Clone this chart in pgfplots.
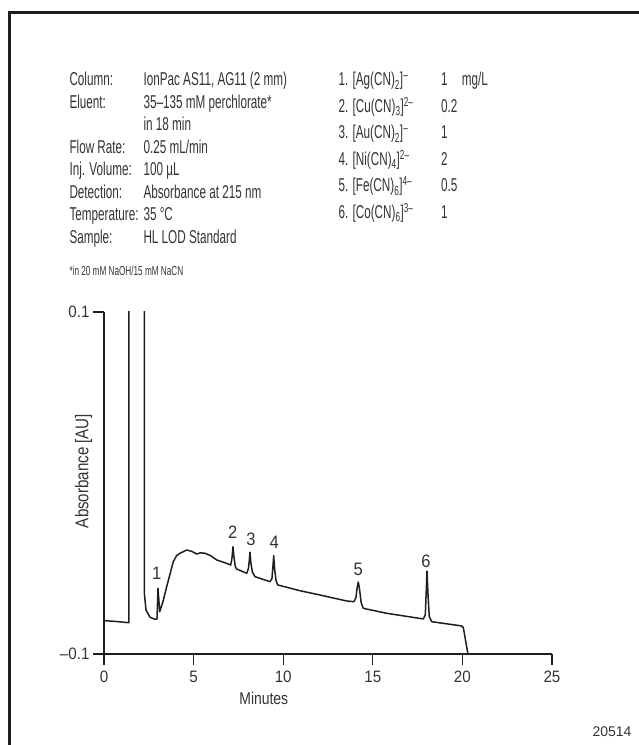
\documentclass[border=0pt]{standalone}
\usepackage{fontspec}
\setmainfont{Liberation Sans}
\newfontfamily\condA[FakeStretch=0.63]{Liberation Sans}
\newfontfamily\condB[FakeStretch=0.82]{Liberation Sans}
\newfontfamily\condC[FakeStretch=0.92]{Liberation Sans}
\usepackage{pgfplots}
\pgfplotsset{compat=1.18}
\definecolor{txt}{HTML}{333333}
\definecolor{ink}{HTML}{1E1E1E}
\begin{document}
\begin{tikzpicture}[x=1pt,y=1pt]
\useasboundingbox (0,0) rectangle (639,745);
% frame
\draw[ink,line width=2.4pt] (9.5,-20) -- (9.5,732.5) -- (680,732.5);
% method block
\begin{scope}[every node/.style={anchor=base west,inner sep=0pt,text=txt,font=\condA\fontsize{18.6}{22}\selectfont}]
\node at (69.3,{745-86.0}) {Column:};
\node at (143.3,{745-86.0}) {IonPac AS11, AG11 (2 mm)};
\node at (69.3,{745-108.5}) {Eluent:};
\node at (143.3,{745-108.5}) {35–135 mM perchlorate*};
\node at (143.3,{745-130.9}) {in 18 min};
\node at (69.3,{745-153.4}) {Flow Rate:};
\node at (143.3,{745-153.4}) {0.25 mL/min};
\node at (69.3,{745-175.9}) {Inj. Volume:};
\node at (143.3,{745-175.9}) {100 µL};
\node at (69.3,{745-198.3}) {Detection:};
\node at (143.3,{745-198.3}) {Absorbance at 215 nm};
\node at (69.3,{745-220.8}) {Temperature:};
\node at (143.3,{745-220.8}) {35 °C};
\node at (69.3,{745-243.3}) {Sample:};
\node at (143.3,{745-243.3}) {HL LOD Standard};
% analytes
\node at (338.3,{745-86.0}) {1. [Ag(CN)\textsubscript{2}]\textsuperscript{–}};
\node at (338.3,{745-112.5}) {2. [Cu(CN)\textsubscript{3}]\textsuperscript{2–}};
\node at (338.3,{745-138.9}) {3. [Au(CN)\textsubscript{2}]\textsuperscript{–}};
\node at (338.3,{745-165.4}) {4. [Ni(CN)\textsubscript{4}]\textsuperscript{2–}};
\node at (338.3,{745-191.9}) {5. [Fe(CN)\textsubscript{6}]\textsuperscript{4–}};
\node at (338.3,{745-218.4}) {6. [Co(CN)\textsubscript{6}]\textsuperscript{3–}};
\node at (441.0,{745-86.0}) {1};
\node at (461.7,{745-86.0}) {mg/L};
\node at (441.0,{745-112.5}) {0.2};
\node at (441.0,{745-138.9}) {1};
\node at (441.0,{745-165.4}) {2};
\node at (441.0,{745-191.9}) {0.5};
\node at (441.0,{745-218.4}) {1};
\end{scope}
\node[anchor=base west,inner sep=0pt,text=txt,font=\condA\fontsize{13}{15}\selectfont] at (69.3,{745-276}) {*in 20 mM NaOH/15 mM NaCN};
\node[anchor=base east,inner sep=0pt,text=txt,font=\fontsize{14}{16}\selectfont] at (631.7,{745-736.7}) {20514};
\begin{axis}[
  at={(104pt,91pt)}, anchor=south west,
  scale only axis, width=448pt, height=342pt,
  xmin=0, xmax=25, ymin=-0.1, ymax=0.1,
  axis lines=left,
  axis line style={-, ink, line width=1.4pt},
  every tick/.style={ink, line width=1.3pt},
  tick align=outside,
  major tick length=11pt,
  xtick={0,5,10,15,20,25},
  xticklabels={0,5,10,15,20,25},
  ytick={-0.1,0.1},
  yticklabels={–0.1,0.1},
  ticklabel style={text=txt, font=\condC\fontsize{16.5}{18}\selectfont},
  xticklabel style={anchor=base, yshift=-17.3pt},
  yticklabel style={anchor=east},
  xlabel={Minutes},
  ylabel={Absorbance [AU]},
  xlabel style={at={(axis description cs:0.3567,0)}, anchor=base, yshift=-50pt, inner sep=0pt, text=txt, font=\condB\fontsize{17}{19}\selectfont},
  ylabel style={at={(axis description cs:-0.035,0.535)}, anchor=base, inner sep=0pt, text=txt, font=\condB\fontsize{18.4}{20}\selectfont},
  clip=true,
]
\addplot[ink, line width=1.5pt, line join=round] coordinates {
(0,-0.0805) (0.7,-0.0810) (1.39,-0.0817) (1.40,0.3) (2.245,0.3)
(2.249,-0.0643) (2.344,-0.0743) (2.567,-0.0785) (2.846,-0.0797) (2.958,-0.0795)
(3.013,-0.0616) (3.108,-0.0753) (3.30,-0.0690) (3.499,-0.0606) (3.867,-0.0460)
(4.05,-0.0425) (4.241,-0.0411) (4.615,-0.0392) (4.90,-0.0400) (5.173,-0.0415)
(5.40,-0.0408) (5.636,-0.0411) (5.95,-0.0425) (6.289,-0.0450) (6.847,-0.0470)
(7.070,-0.0480) (7.14,-0.0440) (7.199,-0.0373) (7.26,-0.0440) (7.33,-0.0490) (7.405,-0.0503)
(7.963,-0.0528) (8.06,-0.0500) (8.10,-0.0460) (8.147,-0.0405) (8.20,-0.0470) (8.28,-0.0520) (8.426,-0.0548)
(9.263,-0.0577) (9.37,-0.0560) (9.42,-0.0500) (9.470,-0.0425) (9.53,-0.0510) (9.60,-0.0570) (9.693,-0.0596)
(10.938,-0.0630) (12.054,-0.0655) (13.544,-0.0690)
(13.951,-0.0694) (14.06,-0.0670) (14.13,-0.0610) (14.191,-0.0579) (14.26,-0.0620) (14.35,-0.0700) (14.470,-0.0733)
(15.776,-0.0762) (17.818,-0.0795)
(17.93,-0.0770) (17.98,-0.0640) (18.025,-0.0515) (18.08,-0.0650) (18.15,-0.0780) (18.287,-0.0811)
(19.961,-0.0836) (20.05,-0.0845) (20.31,-0.1)
};
\begin{scope}[every node/.style={text=txt, inner sep=0pt, font=\condC\fontsize{18}{20}\selectfont}]
\node at (axis cs:2.941,-0.0526) {1};
\node at (axis cs:7.182,-0.0285) {2};
\node at (axis cs:8.203,-0.0327) {3};
\node at (axis cs:9.503,-0.0347) {4};
\node at (axis cs:14.191,-0.0503) {5};
\node at (axis cs:17.969,-0.0460) {6};
\end{scope}
\end{axis}
\end{tikzpicture}
\end{document}
